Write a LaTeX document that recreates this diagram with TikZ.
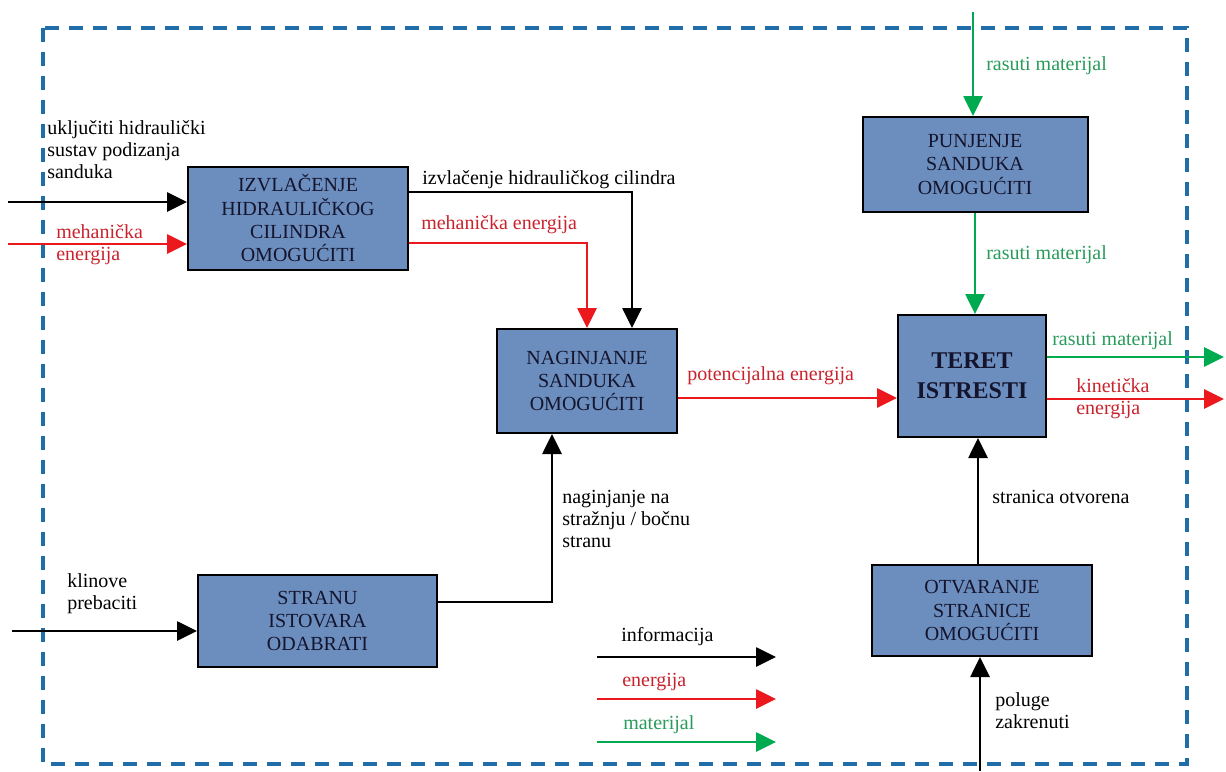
\documentclass[tikz,border=0pt]{standalone}
\usepackage{fontspec}
\setmainfont{Liberation Serif}
\usetikzlibrary{arrows.meta}
\definecolor{boxfill}{RGB}{108,142,191}
\definecolor{frameblue}{RGB}{31,110,170}
\definecolor{lred}{RGB}{235,25,30}
\definecolor{tred}{RGB}{200,35,45}
\definecolor{lgreen}{RGB}{0,170,80}
\definecolor{tgreen}{RGB}{40,155,90}
\definecolor{boxtext}{RGB}{20,20,45}
\tikzset{
  fbox/.style={draw=black, line width=1.5pt, fill=boxfill, align=center, inner sep=0pt,
    text=boxtext, font=\fontsize{15}{17.5}\selectfont},
  info/.style={draw=black, line width=1.2pt, -{Triangle[length=15pt,width=14.5pt]}},
  energy/.style={draw=lred, line width=1.2pt, -{Triangle[length=15pt,width=14.5pt,fill=lred]}},
  mat/.style={draw=lgreen, line width=1.2pt, -{Triangle[length=15pt,width=14.5pt,fill=lgreen]}},
  lab/.style={anchor=west, align=left, inner sep=0pt, font=\fontsize{15}{16.5}\selectfont},
  blab/.style={lab, text=black},
  rlab/.style={lab, text=tred},
  glab/.style={lab, text=tgreen},
  frame/.style={draw=frameblue, line width=3pt, dash pattern=on 10.5pt off 7.5pt}
}
\begin{document}
\begin{tikzpicture}[x=0.75pt,y=-0.75pt]
\useasboundingbox (0,0) rectangle (1226,771);
% frame
\draw[frame] (43,28) rectangle (1187,764);

% boxes
\node[fbox, minimum width=165pt, minimum height=77.25pt] (izv) at (298,218.5) {IZVLAČENJE\\HIDRAULIČKOG\\CILINDRA\\OMOGUĆITI};
\node[fbox, minimum width=135pt, minimum height=78pt] (nag) at (587,381) {NAGINJANJE\\SANDUKA\\OMOGUĆITI};
\node[fbox, minimum width=168.75pt, minimum height=71.25pt] (pun) at (975,164.5) {PUNJENJE\\SANDUKA\\OMOGUĆITI};
\node[fbox, minimum width=111pt, minimum height=91.5pt, font=\fontsize{18}{22.5}\selectfont\bfseries] (ter) at (972,376) {TERET\\ISTRESTI};
\node[fbox, minimum width=179.25pt, minimum height=69pt] (str) at (317.5,621) {STRANU\\ISTOVARA\\ODABRATI};
\node[fbox, minimum width=165pt, minimum height=68.25pt] (otv) at (982,610.5) {OTVARANJE\\STRANICE\\OMOGUĆITI};

% free ends / bends
\coordinate (i1) at (8,202);
\coordinate (i2) at (8,244);
\coordinate (k1) at (632,192);
\coordinate (k2) at (587,243);
\coordinate (k3) at (0,398);
\coordinate (g0) at (973,12);
\coordinate (g1) at (975,0);
\coordinate (g2) at (1224,357);
\coordinate (r2) at (1224,399);
\coordinate (k4) at (978,0);
\coordinate (p0) at (980,771);
\coordinate (k5) at (552,602);
\coordinate (kl) at (12,631);
\coordinate (la1) at (597,657); \coordinate (lb1) at (776,657);
\coordinate (la2) at (597,699); \coordinate (lb2) at (776,699);
\coordinate (la3) at (597,742); \coordinate (lb3) at (776,742);

% connectors
\draw[info] (i1) -- (izv.west |- i1);
\draw[energy] (i2) -- (izv.west |- i2);
\draw[info] (izv.east |- k1) -| (nag.north -| k1);
\draw[energy] (izv.east |- k2) -| (nag.north -| k2);
\draw[energy] (nag.east |- k3) -- (ter.west |- k3);
\draw[mat] (g0) -- (pun.north -| g0);
\draw[mat] (pun.south -| g1) -- (ter.north -| g1);
\draw[mat] (ter.east |- g2) -- (g2);
\draw[energy] (ter.east |- r2) -- (r2);
\draw[info] (otv.north -| k4) -- (ter.south -| k4);
\draw[info] (p0) -- (otv.south -| p0);
\draw[info] (str.east |- k5) -| (nag.south -| k5);
\draw[info] (kl) -- (str.west |- kl);
\draw[info] (la1) -- (lb1);
\draw[energy] (la2) -- (lb2);
\draw[mat] (la3) -- (lb3);

% labels
\node[blab] (t1) at (47,150) {uključiti hidraulički\\sustav podizanja\\sanduka};
\node[rlab] (t2) at (56,245) {mehanička\\energija};
\node[blab] (t3) at (422,180) {izvlačenje hidrauličkog cilindra};
\node[rlab] (t4) at (421,225) {mehanička energija};
\node[rlab] (t5) at (687,376) {potencijalna energija};
\node[glab] (t6) at (986,66) {rasuti materijal};
\node[glab] (t7) at (986,255) {rasuti materijal};
\node[glab] (t8) at (1052,341) {rasuti materijal};
\node[rlab] (t9) at (1076,399) {kinetička\\energija};
\node[blab] (t10) at (992,497) {stranica otvorena};
\node[blab] (t11) at (995,711) {poluge\\zakrenuti};
\node[blab] (t12) at (562,519) {naginjanje na\\stražnju / bočnu\\stranu};
\node[blab] (t13) at (67,594) {klinove\\prebaciti};
\node[blab] (t14) at (621,637) {informacija};
\node[rlab] (t15) at (622,682) {energija};
\node[glab] (t16) at (623,725) {materijal};
\end{tikzpicture}
\end{document}
